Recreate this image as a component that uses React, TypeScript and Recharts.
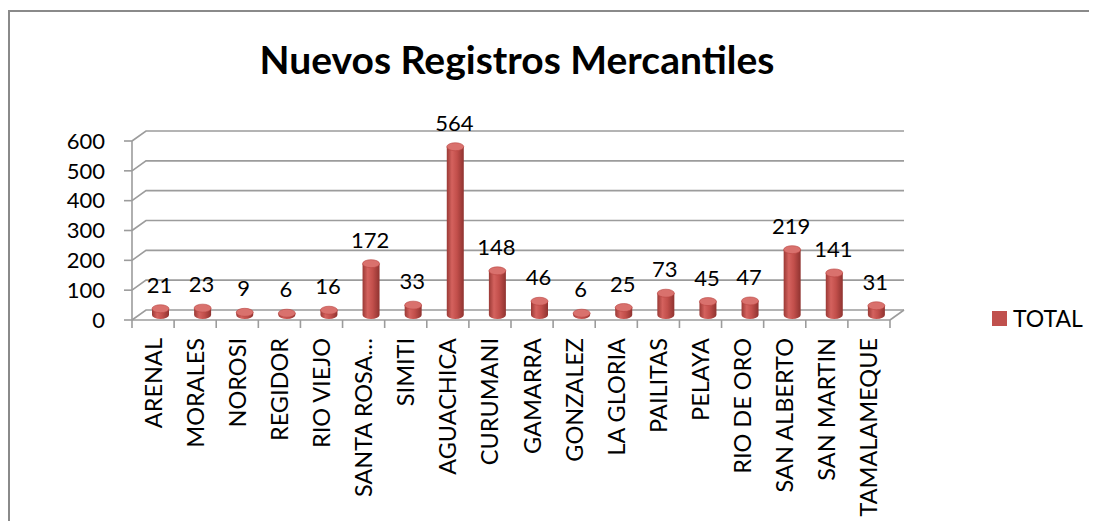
import { BarChart, Bar, XAxis, YAxis, CartesianGrid, LabelList, Legend } from "recharts";

const municipios = [
  "ARENAL", "MORALES", "NOROSI", "REGIDOR", "RIO VIEJO", "SANTA ROSA…", "SIMITI", "AGUACHICA", "CURUMANI",
  "GAMARRA", "GONZALEZ", "LA GLORIA", "PAILITAS", "PELAYA", "RIO DE ORO", "SAN ALBERTO", "SAN MARTIN", "TAMALAMEQUE",
];
const totales = [21, 23, 9, 6, 16, 172, 33, 564, 148, 46, 6, 25, 73, 45, 47, 219, 141, 31];
const yTicks = [0, 100, 200, 300, 400, 500, 600];

const data = municipios.map((name, i) => ({ name, total: totales[i] }));

const W = 1081;
const H = 513;
const PLOT_LEFT = 124;
const PLOT_RIGHT = 882;
const PLOT_TOP = 133;
const PLOT_BOTTOM = 312;
const Y_AXIS_W = 60;
const X_AXIS_H = 150;
const BAND = (PLOT_RIGHT - PLOT_LEFT) / municipios.length;

// depth of the 3D box
const DX = 14;
const DY = 10;

const FONT = "Lato, 'Open Sans', sans-serif";
const GRID = "#9c9c9c";
const RED = "#c0504d";

function gridLine(props: any) {
  const { x1, y1, x2, y, height, index } = props;
  const isFloor = Math.abs(y1 - (y + height)) < 0.5;
  return (
    <g key={`grid-${index}`}>
      <polyline
        points={`${x1},${y1} ${x1 + DX},${y1 - DY} ${x2 + DX},${y1 - DY}`}
        fill="none"
        stroke={GRID}
        strokeWidth={1.6}
      />
      {isFloor && (
        <line x1={x2} y1={y1} x2={x2 + DX} y2={y1 - DY} stroke={GRID} strokeWidth={1.6} />
      )}
    </g>
  );
}

function CategoryTick(props: any) {
  const { x, y, payload, index } = props;
  const left = x - BAND / 2;
  return (
    <g>
      <line x1={left} y1={y} x2={left} y2={y + 8} stroke={GRID} strokeWidth={1.6} />
      {index === municipios.length - 1 && (
        <line x1={x + BAND / 2} y1={y} x2={x + BAND / 2} y2={y + 8} stroke={GRID} strokeWidth={1.6} />
      )}
      <text
        transform={`translate(${x},${y + 18}) rotate(-90)`}
        textAnchor="end"
        dy="0.36em"
        fontFamily={FONT}
        fontSize={23.5}
        fill="#000"
      >
        {payload.value}
      </text>
    </g>
  );
}

function Cylinder(props: any) {
  const { x, y, width, height, index } = props;
  if (width == null || height == null) return null;
  const rx = width / 2;
  const ry = 4;
  const cx = x + width / 2 + DX / 2;
  const top = y - DY / 2;
  const bottom = y + height - DY / 2;
  const id = `cyl-${index}`;
  return (
    <g>
      <defs>
        <linearGradient id={id} x1="0" y1="0" x2="1" y2="0">
          <stop offset="0%" stopColor="#9a3935" />
          <stop offset="30%" stopColor="#d4625e" />
          <stop offset="60%" stopColor="#c24f4b" />
          <stop offset="100%" stopColor="#8f3330" />
        </linearGradient>
      </defs>
      <path
        d={`M${cx - rx},${top} L${cx - rx},${bottom} A${rx},${ry} 0 0 0 ${cx + rx},${bottom} L${cx + rx},${top} Z`}
        fill={`url(#${id})`}
      />
      <ellipse cx={cx} cy={top} rx={rx} ry={ry} fill="#d9716d" stroke="#b8433f" strokeWidth={0.6} />
    </g>
  );
}

function ValueLabel(props: any) {
  const { x, y, width, value } = props;
  return (
    <text
      x={x + width / 2 + 6}
      y={y - 21}
      textAnchor="middle"
      fontFamily={FONT}
      fontSize={22}
      fill="#000"
    >
      {value}
    </text>
  );
}

function TotalLegend() {
  return (
    <div style={{ display: "flex", alignItems: "center", fontFamily: FONT, fontSize: 23, color: "#000" }}>
      <span style={{ display: "inline-block", width: 15, height: 15, background: RED, marginRight: 6 }} />
      TOTAL
    </div>
  );
}

export default function App() {
  return (
    <div style={{ position: "relative", width: W, height: H, overflow: "hidden", background: "#fff" }}>
      <div
        style={{
          position: "absolute",
          left: 0,
          top: 2,
          width: W + 20,
          height: H + 20,
          borderLeft: "2px solid #8a8a8a",
          borderTop: "2px solid #8a8a8a",
          boxSizing: "border-box",
        }}
      />
      <div
        style={{
          position: "absolute",
          left: 0,
          top: 67 - 35,
          width: 1018,
          textAlign: "center",
          fontFamily: FONT,
          fontWeight: 700,
          fontSize: 39,
          lineHeight: 1,
          color: "#000",
        }}
      >
        Nuevos Registros Mercantiles
      </div>
      <div style={{ position: "absolute", left: 0, top: 0 }}>
        <BarChart
          width={W}
          height={H}
          data={data}
          margin={{
            top: PLOT_TOP,
            left: PLOT_LEFT - Y_AXIS_W,
            right: W - PLOT_RIGHT,
            bottom: H - PLOT_BOTTOM - X_AXIS_H,
          }}
          barSize={17}
        >
          <CartesianGrid vertical={false} horizontal={gridLine} />
          <XAxis
            dataKey="name"
            interval={0}
            height={X_AXIS_H}
            tickSize={0}
            tickMargin={0}
            tickLine={false}
            axisLine={{ stroke: GRID, strokeWidth: 1.6 }}
            tick={<CategoryTick />}
          />
          <YAxis
            width={Y_AXIS_W}
            domain={[0, 600]}
            ticks={yTicks}
            interval={0}
            tickSize={8}
            tickMargin={19}
            axisLine={{ stroke: GRID, strokeWidth: 1.6 }}
            tickLine={{ stroke: GRID, strokeWidth: 1.6 }}
            tick={{ fontFamily: FONT, fontSize: 22, fill: "#000" }}
          />
          <Legend
            layout="horizontal"
            align="center"
            verticalAlign="middle"
            content={<TotalLegend />}
            wrapperStyle={{ left: 984, top: 296, width: 100, height: 28 }}
          />
          <Bar dataKey="total" name="TOTAL" fill={RED} shape={<Cylinder />} isAnimationActive={false}>
            <LabelList dataKey="total" content={<ValueLabel />} />
          </Bar>
        </BarChart>
      </div>
    </div>
  );
}
